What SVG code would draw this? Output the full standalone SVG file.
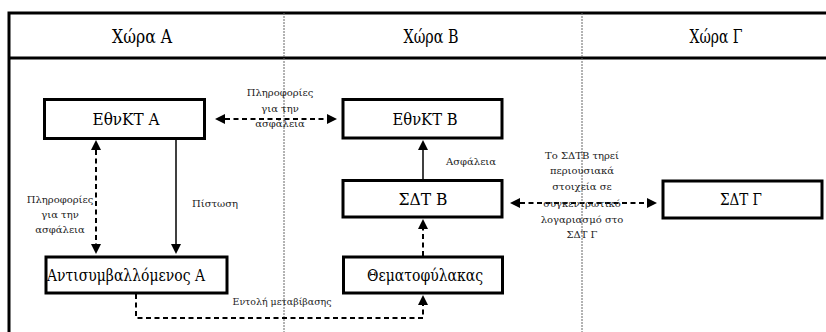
<svg xmlns="http://www.w3.org/2000/svg" width="826" height="332" viewBox="0 0 826 332">
<style>
.frame{fill:none;stroke:#000;stroke-width:3}
.div{stroke:#666;stroke-width:1;stroke-dasharray:2 1;fill:none}
.box{fill:#fff;stroke:#000;stroke-width:3}
.hdr{font-size:18px;text-anchor:middle;fill:#000}
.bt{font-size:17px;text-anchor:middle;fill:#000}
.lbl{font-size:10px;text-anchor:middle;fill:#222}
.solid{fill:none;stroke:#000;stroke-width:1.5}
.dash{fill:none;stroke:#000;stroke-width:2;stroke-dasharray:5 3.5}
</style>
<defs>
<marker id="ah" viewBox="0 0 10 10" refX="0" refY="5" markerWidth="10" markerHeight="10" markerUnits="userSpaceOnUse" orient="auto-start-reverse">
<path d="M0,0 L10,5 L0,10 Z" fill="#000"/>
</marker>
</defs>
<rect x="0" y="0" width="826" height="332" fill="#fff"/>
<g font-family="'DejaVu Serif', 'Liberation Serif', serif">
<g id="frame">
<path class="frame" d="M9,334 V13 H830"/>
<line class="frame" x1="9" y1="58" x2="830" y2="58"/>
<line class="div" x1="284" y1="13" x2="284" y2="332"/>
<line class="div" x1="582" y1="13" x2="582" y2="332"/>
<text class="hdr" x="142" y="43" textLength="60" lengthAdjust="spacingAndGlyphs">Χώρα Α</text>
<text class="hdr" x="431" y="43" textLength="55" lengthAdjust="spacingAndGlyphs">Χώρα Β</text>
<text class="hdr" x="716" y="43" textLength="53" lengthAdjust="spacingAndGlyphs">Χώρα Γ</text>
</g>
<g id="connectors">
<line class="dash" x1="225" y1="119" x2="327" y2="119" marker-start="url(#ah)" marker-end="url(#ah)"/>
<line class="dash" x1="96" y1="150" x2="96" y2="244" marker-start="url(#ah)" marker-end="url(#ah)"/>
<line class="solid" x1="176" y1="139" x2="176" y2="244" marker-end="url(#ah)"/>
<line class="solid" x1="423" y1="180" x2="423" y2="150" marker-end="url(#ah)"/>
<line class="dash" x1="423" y1="256" x2="423" y2="229" marker-end="url(#ah)"/>
<path class="dash" d="M136,294 V318 H423 V305" marker-end="url(#ah)"/>
<line class="dash" x1="520" y1="203" x2="647" y2="203" marker-start="url(#ah)" marker-end="url(#ah)"/>
<text class="lbl"><tspan x="280" y="96">Πληροφορίες</tspan><tspan x="280" y="112">για την</tspan><tspan x="280" y="127">ασφάλεια</tspan></text>
<text class="lbl"><tspan x="60" y="203">Πληροφορίες</tspan><tspan x="60" y="218">για την</tspan><tspan x="60" y="233">ασφάλεια</tspan></text>
<text class="lbl" x="215" y="207">Πίστωση</text>
<text class="lbl" x="471" y="165">Ασφάλεια</text>
<text class="lbl" x="282" y="305" textLength="99" lengthAdjust="spacingAndGlyphs">Εντολή μεταβίβασης</text>
<text class="lbl"><tspan x="582" y="159">Το ΣΔΤΒ τηρεί</tspan><tspan x="582" y="174">περιουσιακά</tspan><tspan x="582" y="190">στοιχεία σε</tspan><tspan x="582" y="207">συγκεντρωτικό</tspan><tspan x="582" y="223">λογαριασμό στο</tspan><tspan x="582" y="238">ΣΔΤ Γ</tspan></text>
</g>
<g id="ethnkt-a">
<rect class="box" x="44.5" y="99.5" width="160" height="39"/>
<text class="bt" x="126" y="125" textLength="67" lengthAdjust="spacingAndGlyphs">ΕθνΚΤ Α</text>
</g>
<g id="ethnkt-b">
<rect class="box" x="343" y="99.5" width="159" height="38.5"/>
<text class="bt" x="425" y="125" textLength="65" lengthAdjust="spacingAndGlyphs">ΕθνΚΤ Β</text>
</g>
<g id="sdt-b">
<rect class="box" x="343" y="180.5" width="159" height="36.5"/>
<text class="bt" x="423" y="205" textLength="49" lengthAdjust="spacingAndGlyphs">ΣΔΤ Β</text>
</g>
<g id="thematofylakas">
<rect class="box" x="343.5" y="257" width="159" height="36"/>
<text class="bt" x="425" y="281" textLength="116" lengthAdjust="spacingAndGlyphs">Θεματοφύλακας</text>
</g>
<g id="sdt-g">
<rect class="box" x="663" y="181" width="159" height="37"/>
<text class="bt" x="741" y="205" textLength="42" lengthAdjust="spacingAndGlyphs">ΣΔΤ Γ</text>
</g>
<g id="antisymballomenos-a">
<rect class="box" x="46" y="257" width="181" height="36"/>
<text class="bt" x="126" y="281" textLength="158" lengthAdjust="spacingAndGlyphs">Αντισυμβαλλόμενος Α</text>
</g>
</g>
</svg>
